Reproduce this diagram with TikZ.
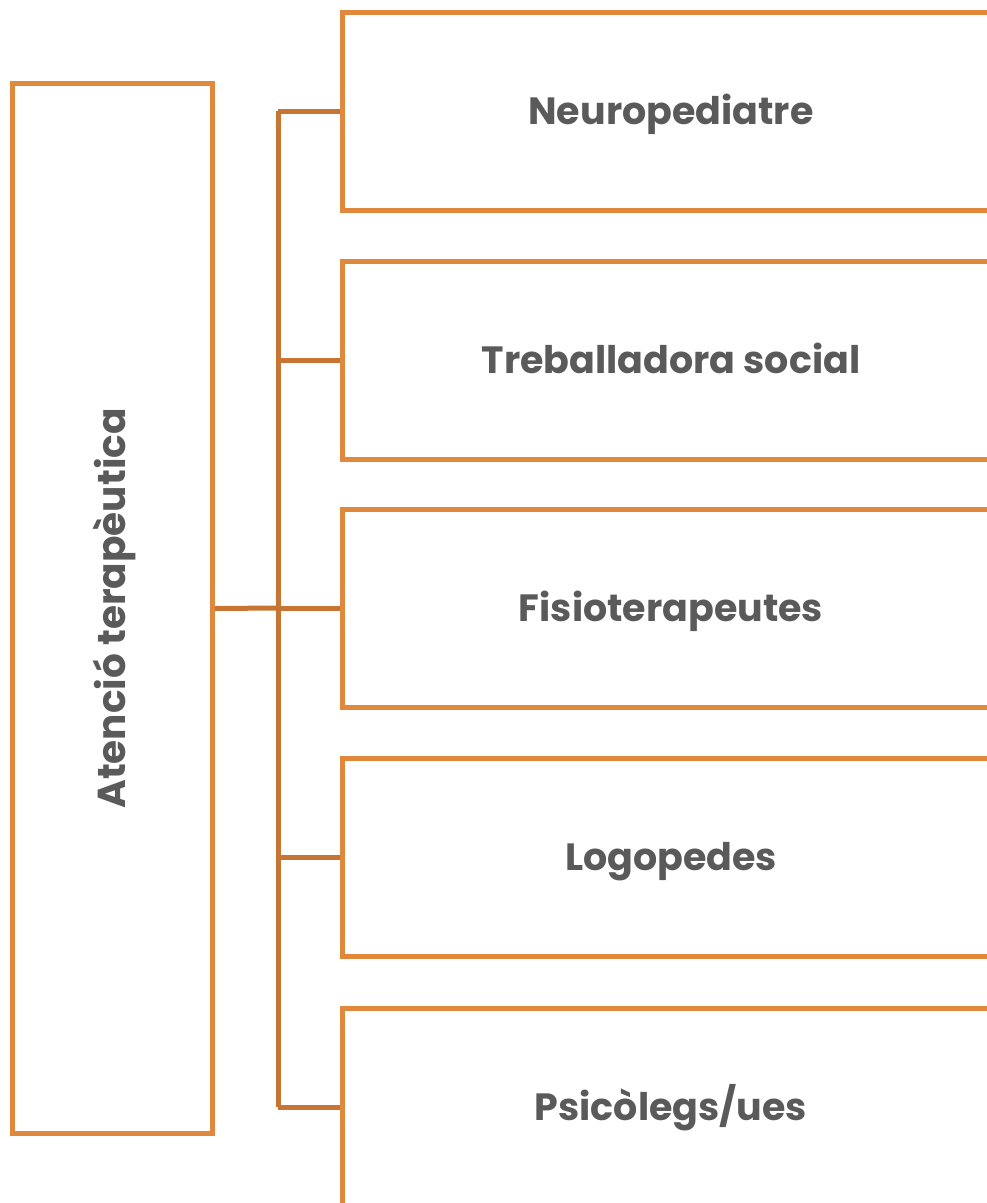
\documentclass[tikz,border=0pt]{standalone}
\usepackage{fontspec}
\setmainfont{Poppins}
\usepackage{tikz}

\definecolor{boxline}{RGB}{224,136,60}
\definecolor{linkline}{RGB}{200,117,51}
\definecolor{txtgray}{RGB}{90,90,90}

\begin{document}
\begin{tikzpicture}[x=1pt,y=1pt,yscale=-1,
  unit/.style={draw=boxline,line width=5pt,inner sep=0pt,minimum width=658pt,minimum height=198pt,
    font=\fontsize{38}{44}\selectfont\bfseries,text=txtgray,text height=28pt,text depth=2pt},
  link/.style={draw=linkline,line width=5pt}]
  \useasboundingbox (0,0) rectangle (987,1203);
  \clip (0,0) rectangle (987,1203);
  \node [draw=boxline,line width=5pt,inner sep=0pt,rotate=90,minimum width=1050pt,minimum height=200pt,
    font=\fontsize{39}{44}\selectfont\bfseries,text=txtgray,text height=28pt,text depth=2pt] (care) at (112.5,608.5) {Atenció terapèutica};
  \node [unit] (neuro) at (671,111) {Neuropediatre};
  \node [unit] (social) at (671,360) {Treballadora social};
  \node [unit] (fisio) at (671,608) {Fisioterapeutes};
  \node [unit] (logo) at (671,857) {Logopedes};
  \node [unit] (psico) at (671,1107) {Psicòlegs/ues};
  \coordinate (bus) at (278,608);
  \draw [link] (care.south) -- (bus);
  \draw [link] (neuro.west -| bus) -- (psico.west -| bus);
  \foreach \n in {neuro,social,fisio,logo,psico}
    \draw [link] (\n.west -| bus) -- (\n.west);
\end{tikzpicture}
\end{document}
